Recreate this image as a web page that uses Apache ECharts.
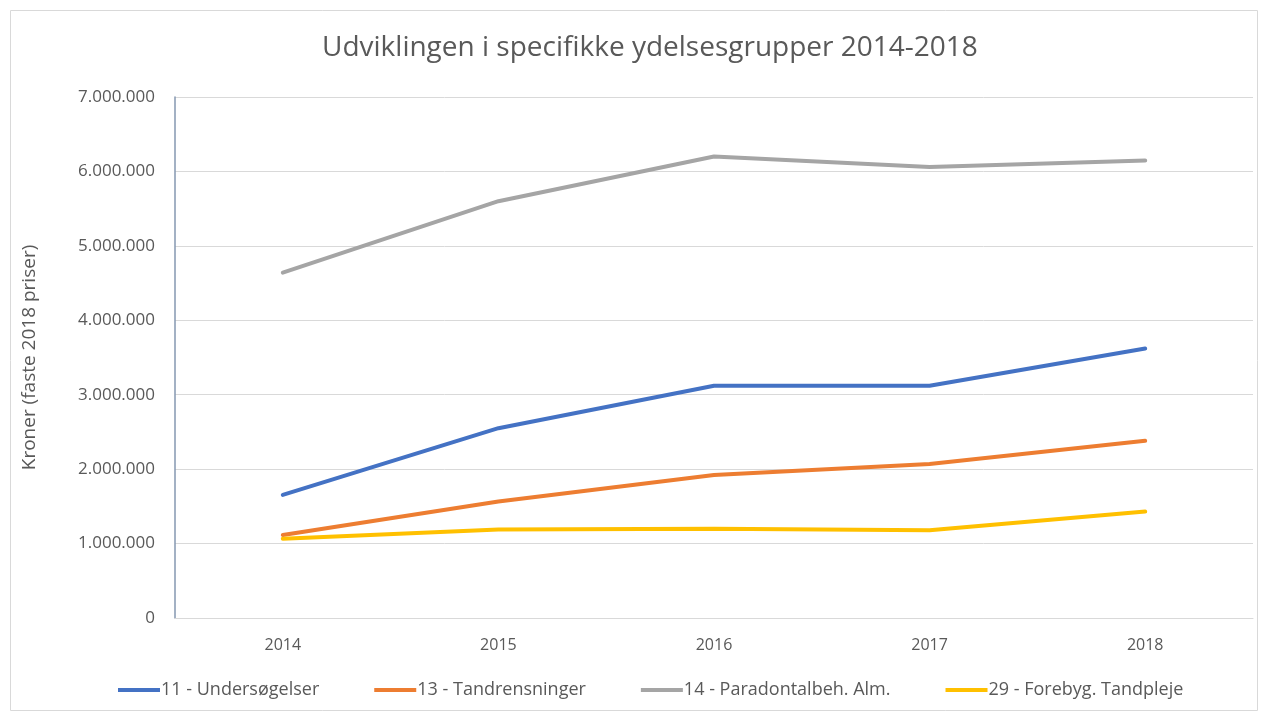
<!DOCTYPE html>
<html>
<head>
<meta charset="utf-8">
<script src="https://cdn.jsdelivr.net/npm/echarts@6/dist/echarts.min.js"></script>
<style>
  html, body { margin: 0; padding: 0; background: #fff; }
  #chart { width: 1268px; height: 717px; }
</style>
</head>
<body>
<div id="chart"></div>
<script>
// data
const years = ['2014', '2015', '2016', '2017', '2018'];
const undersoegelser = [1654000, 2550000, 3120000, 3120000, 3620000];
const tandrensninger = [1116000, 1564000, 1920000, 2070000, 2380000];
const paradontal = [4640000, 5600000, 6200000, 6060000, 6146000];
const forebyg = [1065000, 1190000, 1200000, 1180000, 1430000];
const seriesNames = [
  '11 - Undersøgelser',
  '13 - Tandrensninger',
  '14 - Paradontalbeh. Alm.',
  '29 - Forebyg. Tandpleje'
];

const font = 'Open Sans';
const textColor = '#595959';

function dotFormat(v) {
  return String(v).replace(/\B(?=(\d{3})+(?!\d))/g, '.');
}

function lineSeries(name, data, color) {
  return {
    name: name,
    type: 'line',
    data: data,
    symbol: 'none',
    lineStyle: { width: 4, color: color, cap: 'round' },
    itemStyle: { color: color }
  };
}

const chart = echarts.init(document.getElementById('chart'));
chart.setOption({
  animation: false,
  textStyle: { fontFamily: font },
  graphic: [{
    type: 'rect',
    shape: { x: 10.5, y: 10.5, width: 1247, height: 700 },
    style: { fill: 'none', stroke: '#d9d9d9', lineWidth: 1 },
    silent: true
  }],
  title: {
    text: 'Udviklingen i specifikke ydelsesgrupper 2014-2018',
    left: 317,
    top: 29,
    textStyle: { fontFamily: font, fontSize: 28, fontWeight: 'normal', color: textColor }
  },
  grid: { left: 175, right: 15, top: 97, bottom: 99 },
  xAxis: {
    type: 'category',
    data: years,
    boundaryGap: true,
    axisLine: { lineStyle: { color: '#d9d9d9' } },
    axisTick: { show: false },
    axisLabel: { color: textColor, fontSize: 16, margin: 19, fontFamily: font }
  },
  yAxis: {
    type: 'value',
    min: 0,
    max: 7000000,
    interval: 1000000,
    name: 'Kroner (faste 2018 priser)',
    nameLocation: 'middle',
    nameGap: 136,
    nameTextStyle: { color: textColor, fontSize: 19, fontFamily: font },
    axisLine: { show: true, lineStyle: { color: '#8497b0', width: 1.5 } },
    axisTick: { show: false },
    splitLine: { lineStyle: { color: '#d9d9d9' } },
    axisLabel: { color: textColor, fontSize: 17, margin: 20, fontFamily: font, formatter: dotFormat }
  },
  legend: {
    bottom: 13,
    left: 113,
    icon: 'rect',
    itemWidth: 42,
    itemHeight: 4,
    itemGap: 55,
    textStyle: { color: textColor, fontSize: 18, fontFamily: font, padding: [0, 0, 0, -4] },
    data: seriesNames
  },
  series: [
    lineSeries(seriesNames[0], undersoegelser, '#4472c4'),
    lineSeries(seriesNames[1], tandrensninger, '#ed7d31'),
    lineSeries(seriesNames[2], paradontal, '#a5a5a5'),
    lineSeries(seriesNames[3], forebyg, '#ffc000')
  ]
});
</script>
</body>
</html>
